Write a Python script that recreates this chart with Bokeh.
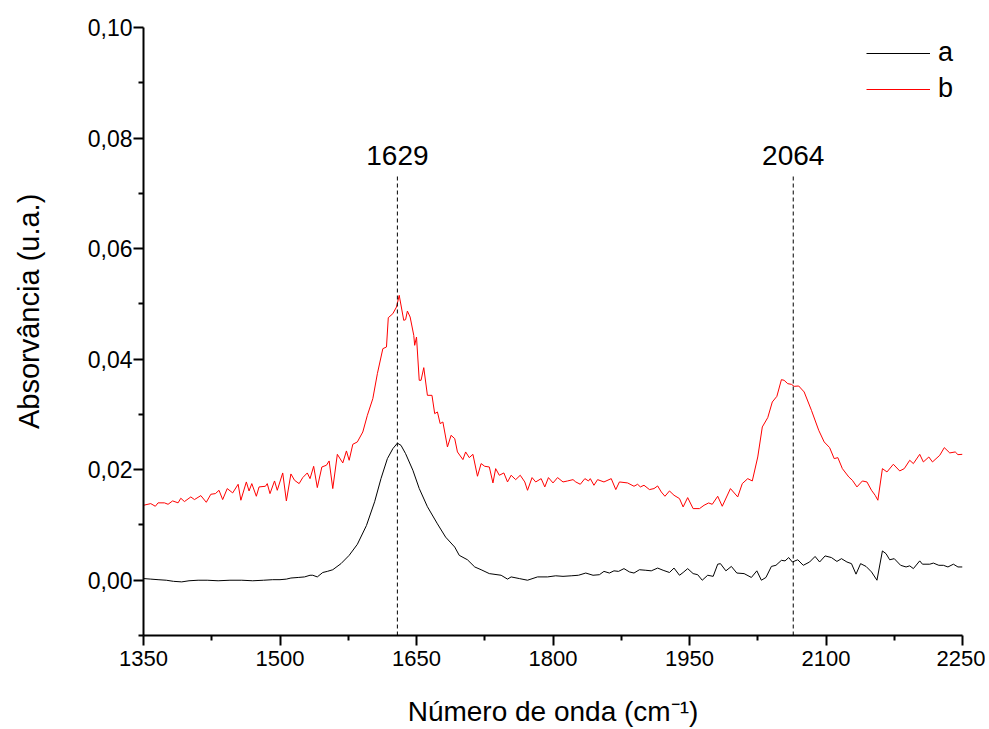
from bokeh.plotting import figure
from bokeh.models import FixedTicker, CustomJSTickFormatter, Range1d
from bokeh.core.properties import value
from bokeh.embed import file_html
from bokeh.resources import INLINE

# ---- data ----
wn_a = [1350, 1358, 1366, 1375, 1383, 1392, 1400, 1410, 1420, 1432, 1445, 1458, 1470, 1482, 1492,
        1500, 1507, 1512, 1520, 1527, 1533, 1536, 1541, 1547, 1552, 1558, 1567, 1576, 1585, 1595,
        1604, 1611, 1618, 1624, 1629, 1633, 1638, 1646, 1653, 1662, 1673, 1682, 1692, 1697, 1706,
        1714, 1721, 1730, 1743, 1750, 1754, 1763, 1772, 1783, 1794, 1803, 1811, 1820, 1828, 1836,
        1844, 1851, 1856, 1862, 1867, 1872, 1878, 1884, 1889, 1895, 1902, 1908, 1915, 1921, 1928,
        1933, 1939, 1943, 1948, 1954, 1959, 1964, 1970, 1976, 1981, 1984, 1990, 1996, 2002, 2010,
        2018, 2024, 2029, 2034, 2040, 2045, 2051, 2055, 2059, 2063, 2069, 2075, 2082, 2088, 2093,
        2099, 2106, 2112, 2117, 2123, 2128, 2133, 2138, 2144, 2150, 2156, 2162, 2166, 2170, 2175,
        2182, 2188, 2192, 2196, 2203, 2206, 2214, 2218, 2224, 2229, 2234, 2240, 2245, 2250]
abs_a = [0.0003, 0.0002, 0.0001, 0.0, -0.0002, -0.0003, -0.0001, 0.0, 0.0, -0.0001, 0.0, 0.0, -0.0001, 0.0, 0.0001,
         0.0001, 0.0002, 0.0004, 0.0005, 0.0006, 0.0009, 0.0009, 0.0006, 0.0014, 0.0016, 0.0019, 0.003, 0.0045, 0.0065, 0.0099,
         0.0142, 0.0184, 0.022, 0.0238, 0.0248, 0.0244, 0.0229, 0.0199, 0.0166, 0.0133, 0.0102, 0.0078, 0.006, 0.0045, 0.0037,
         0.0024, 0.0019, 0.0012, 0.0009, 0.0002, 0.0006, 0.0003, 0.0, 0.0006, 0.0006, 0.0008, 0.0007, 0.0008, 0.0009, 0.0013,
         0.0009, 0.001, 0.0016, 0.0013, 0.0017, 0.0016, 0.0021, 0.0015, 0.0013, 0.0019, 0.0018, 0.0017, 0.0022, 0.0018, 0.0014,
         0.0022, 0.0009, 0.0014, 0.0021, 0.0012, 0.001, 0.0, 0.0009, 0.0007, 0.0029, 0.003, 0.0017, 0.0025, 0.0013, 0.0012,
         0.0005, 0.0017, 0.0, 0.0005, 0.0025, 0.0027, 0.0036, 0.0035, 0.0041, 0.0033, 0.0037, 0.0027, 0.0033, 0.0043, 0.0033,
         0.0044, 0.0041, 0.0034, 0.0039, 0.0033, 0.003, 0.0011, 0.003, 0.0025, 0.0015, 0.0, 0.0053, 0.0048, 0.0037, 0.0039,
         0.0027, 0.0024, 0.0026, 0.0021, 0.0035, 0.0029, 0.0029, 0.0031, 0.0027, 0.0027, 0.0024, 0.0029, 0.0024, 0.0024]

wn_b = [1350, 1358, 1363, 1366, 1373, 1377, 1382, 1388, 1391, 1395, 1402, 1406, 1413, 1419, 1424,
        1429, 1433, 1437, 1442, 1448, 1454, 1457, 1463, 1466, 1469, 1474, 1477, 1484, 1486, 1489,
        1494, 1497, 1503, 1507, 1512, 1516, 1521, 1525, 1530, 1533, 1537, 1541, 1546, 1551, 1554,
        1558, 1563, 1569, 1573, 1576, 1580, 1585, 1591, 1596, 1602, 1607, 1613, 1617, 1619, 1624,
        1628, 1631, 1636, 1638, 1640, 1643, 1647, 1648, 1650, 1653, 1655, 1658, 1662, 1667, 1670,
        1673, 1676, 1679, 1684, 1688, 1692, 1695, 1701, 1704, 1708, 1712, 1717, 1721, 1725, 1730,
        1734, 1737, 1741, 1746, 1750, 1754, 1759, 1764, 1769, 1772, 1777, 1781, 1787, 1791, 1795,
        1800, 1805, 1811, 1816, 1822, 1825, 1830, 1835, 1839, 1841, 1845, 1849, 1856, 1864, 1869,
        1873, 1882, 1889, 1893, 1896, 1900, 1906, 1911, 1915, 1919, 1923, 1928, 1933, 1939, 1943,
        1948, 1954, 1961, 1966, 1971, 1975, 1981, 1986, 1995, 2003, 2008, 2014, 2019, 2025, 2030,
        2036, 2041, 2046, 2051, 2054, 2058, 2062, 2065, 2070, 2076, 2084, 2092, 2098, 2104, 2109,
        2113, 2118, 2125, 2129, 2134, 2140, 2145, 2150, 2154, 2157, 2162, 2167, 2174, 2181, 2186,
        2192, 2196, 2203, 2207, 2213, 2217, 2225, 2230, 2236, 2242, 2245, 2250]
abs_b = [0.01356, 0.01386, 0.01338, 0.0140, 0.0140, 0.01374, 0.01435, 0.0140, 0.01483, 0.01423, 0.01507, 0.01459, 0.01531, 0.0141, 0.01555,
         0.01567, 0.01627, 0.01459, 0.01658, 0.0158, 0.01736, 0.01447, 0.01778, 0.01615, 0.01748, 0.01519, 0.01688, 0.017, 0.01748, 0.01567,
         0.01796, 0.01627, 0.01941, 0.01435, 0.01923, 0.01808, 0.01748, 0.01857, 0.01941, 0.01838, 0.02061, 0.01676, 0.02049, 0.0208, 0.02158,
         0.01658, 0.02278, 0.02122, 0.02339, 0.0217, 0.02459, 0.02502, 0.02682, 0.02984, 0.03285, 0.03737, 0.04189, 0.0422, 0.0475, 0.04822,
         0.04943, 0.05154, 0.04702, 0.04714, 0.0487, 0.04762, 0.0443, 0.0425, 0.044, 0.03617, 0.03617, 0.03846, 0.03345, 0.03345, 0.03014,
         0.03044, 0.02833, 0.02863, 0.02411, 0.02622, 0.02562, 0.02321, 0.02182, 0.02321, 0.02218, 0.02278, 0.01881, 0.0211, 0.02061, 0.02049,
         0.0176, 0.02019, 0.01899, 0.01941, 0.01778, 0.01899, 0.0182, 0.01899, 0.01778, 0.01627, 0.01857, 0.01778, 0.01838, 0.01688, 0.01857,
         0.0176, 0.01857, 0.01778, 0.01796, 0.0182, 0.01778, 0.01736, 0.01838, 0.01796, 0.01838, 0.01718, 0.0182, 0.01778, 0.01838, 0.0164,
         0.01778, 0.0176, 0.017, 0.01736, 0.01688, 0.01718, 0.0164, 0.01658, 0.01706, 0.01597, 0.01519, 0.01615, 0.01537, 0.01477, 0.01326,
         0.01495, 0.01296, 0.01296, 0.01356, 0.01398, 0.01374, 0.01519, 0.01338, 0.01658, 0.01507, 0.01748, 0.01838, 0.01796, 0.0223, 0.02773,
         0.02942, 0.03225, 0.03327, 0.03629, 0.03617, 0.03556, 0.03544, 0.03508, 0.03514, 0.03406, 0.03074, 0.02712, 0.02502, 0.02399, 0.022,
         0.02218, 0.02019, 0.01869, 0.01808, 0.01688, 0.01796, 0.01778, 0.01627, 0.01537, 0.01447, 0.02019, 0.01959, 0.02098, 0.01977, 0.02019,
         0.0217, 0.0211, 0.02278, 0.0214, 0.0223, 0.0214, 0.0226, 0.02399, 0.02303, 0.02321, 0.02272, 0.02278]

peak_pos = [1629, 2064]
peak_labels = ["1629", "2064"]

x_major = [1350, 1500, 1650, 1800, 1950, 2100, 2250]
x_minor = [1425, 1575, 1725, 1875, 2025, 2175]
y_major = [0.0, 0.02, 0.04, 0.06, 0.08, 0.10]
y_minor = [-0.01, 0.01, 0.03, 0.05, 0.07, 0.09]

FONT = "Liberation Sans"

p = figure(width=985, height=729, output_backend="svg", toolbar_location=None,
           x_range=Range1d(1350, 2250), y_range=Range1d(-0.01, 0.10),
           min_border_left=143, min_border_right=23, min_border_top=27, min_border_bottom=94)

p.grid.visible = False
p.outline_line_color = None
p.background_fill_color = "white"
p.border_fill_color = "white"

p.line(wn_a, abs_a, line_color="black", line_width=1, legend_label="a")
p.line(wn_b, abs_b, line_color="#ff0000", line_width=1, legend_label="b")

p.segment(x0=peak_pos, y0=[-0.01] * len(peak_pos), x1=peak_pos, y1=[0.0732] * len(peak_pos),
          line_color="black", line_width=1, line_dash="4 3")
p.text(x=peak_pos, y=[0.0752] * len(peak_pos), text=peak_labels, text_align="center",
       text_baseline="bottom", text_font=value(FONT), text_font_size="28px", text_color="black")

for ax in (p.xaxis[0], p.yaxis[0]):
    ax.axis_line_width = 2
    ax.major_tick_line_width = 2
    ax.minor_tick_line_width = 2
    ax.major_tick_out = 10
    ax.major_tick_in = 0
    ax.minor_tick_out = 5
    ax.minor_tick_in = 0
    ax.major_label_text_font = FONT
    ax.major_label_text_color = "black"
    ax.axis_label_text_font = FONT
    ax.axis_label_text_font_style = "normal"
    ax.axis_label_text_color = "black"

p.xaxis.major_label_text_font_size = "22px"
p.yaxis.major_label_text_font_size = "23px"
p.xaxis.axis_label_text_font_size = "28px"
p.yaxis.axis_label_text_font_size = "29px"

p.xaxis.ticker = FixedTicker(ticks=x_major, minor_ticks=x_minor)
p.yaxis.ticker = FixedTicker(ticks=y_major, minor_ticks=y_minor)
p.yaxis.formatter = CustomJSTickFormatter(code="return tick.toFixed(2).replace('.', ',');")
p.xaxis.major_label_standoff = 5
p.yaxis.major_label_standoff = 1
p.xaxis.axis_label = "Número de onda (cm\u207b\u00b9)"
p.yaxis.axis_label = "\u00a0" * 5 + "Absorvância (u.a.)"
p.xaxis.axis_label_standoff = 27
p.yaxis.axis_label_standoff = 40

lg = p.legend[0]
lg.location = (723, 531)
lg.border_line_color = None
lg.background_fill_alpha = 0
lg.padding = 0
lg.margin = 0
lg.glyph_width = 64
lg.glyph_height = 20
lg.label_height = 20
lg.spacing = 5
lg.label_standoff = 8
lg.label_text_font = FONT
lg.label_text_font_size = "27px"
lg.label_text_color = "black"

open("out.html", "w").write(file_html(p, INLINE))
